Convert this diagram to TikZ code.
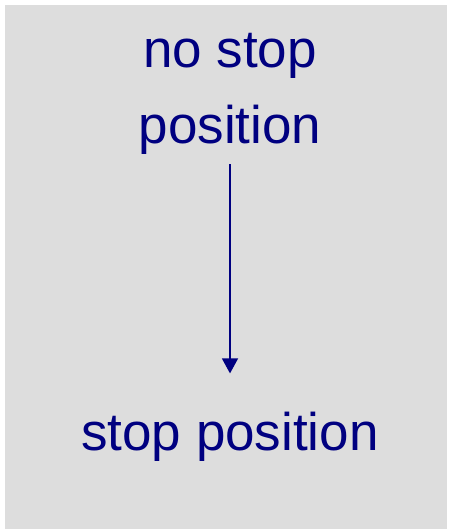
\documentclass[tikz,border=0pt]{standalone}
\usepackage{fontspec}
\setmainfont{Liberation Sans}
\usetikzlibrary{arrows.meta, positioning}
\definecolor{navy}{RGB}{0, 0, 128}
\definecolor{panelgray}{RGB}{221, 221, 221}

\begin{document}
\begin{tikzpicture}[
  x=1pt, y=-1pt,
  label/.style={text=navy, font=\fontsize{53}{76}\selectfont, align=center,
                inner sep=0pt, anchor=base},
  arrow/.style={-{Triangle[length=15pt, width=16pt]}, line width=1.5pt, draw=navy,
                shorten <=10pt, shorten >=38pt},
]
  % Background panel
  \useasboundingbox (0,0) rectangle (448,530);
  \fill[panelgray] (5,5) rectangle (447,529);

  % States
  \node[label] (nostop) at (230,143) {no stop\\position};
  \node[label] (stop) at (230,450) {stop position};

  % Transition
  \draw[arrow] (nostop.south) -- (stop.north);
\end{tikzpicture}
\end{document}
